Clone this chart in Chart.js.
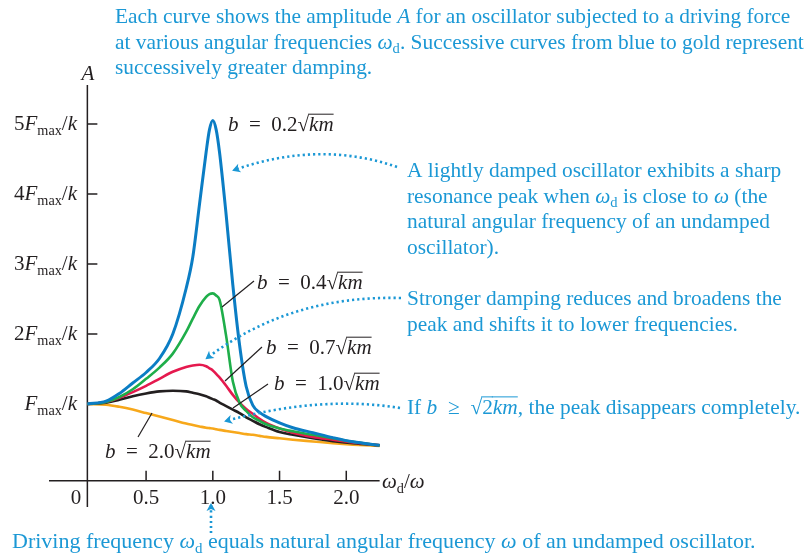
<!DOCTYPE html>
<html>
<head>
<meta charset="utf-8">
<script src="https://cdn.jsdelivr.net/npm/chart.js"></script>
<style>
  body { margin: 0; background: #fff; }
  #wrap { width: 807px; height: 555px; position: relative; }
</style>
</head>
<body>
<div id="wrap"><canvas id="myChart"></canvas></div>
<script>
// driving frequency omega_d / omega
var omega = [0.06, 0.2, 0.3, 0.4, 0.5, 0.6, 0.7, 0.8, 0.85, 0.9, 0.95, 0.975, 1.0, 1.025, 1.05,
  1.1, 1.15, 1.2, 1.25, 1.3, 1.35, 1.4, 1.5, 1.6, 1.75, 1.9, 2.05, 2.25]

// amplitude in units of Fmax/k, one list per damping
var ampB02 = [1.0, 1.04, 1.15, 1.3, 1.45, 1.65, 2.0, 2.65, 3.1, 3.85, 4.6, 4.92, 5.05, 4.92, 4.6,
  3.7, 2.7, 1.85, 1.25, 0.98, 0.88, 0.82, 0.73, 0.66, 0.59, 0.52, 0.46, 0.41]
var ampB04 = [1.0, 1.03, 1.1, 1.21, 1.36, 1.52, 1.72, 2.03, 2.22, 2.4, 2.53, 2.57, 2.58, 2.55, 2.49,
  1.97, 1.32, 1.02, 0.9, 0.81, 0.76, 0.71, 0.65, 0.61, 0.56, 0.51, 0.46, 0.41]
var ampB07 = [1.0, 1.03, 1.09, 1.17, 1.26, 1.36, 1.46, 1.53, 1.55, 1.56, 1.54, 1.51, 1.48, 1.43, 1.38,
  1.26, 1.13, 1.02, 0.93, 0.86, 0.79, 0.73, 0.65, 0.59, 0.53, 0.49, 0.45, 0.41]
var ampB10 = [1.0, 1.02, 1.06, 1.11, 1.15, 1.18, 1.19, 1.18, 1.16, 1.14, 1.11, 1.09, 1.07, 1.05, 1.02,
  0.97, 0.92, 0.87, 0.81, 0.76, 0.71, 0.67, 0.6, 0.56, 0.51, 0.47, 0.44, 0.41]
var ampB20 = [1.0, 0.99, 0.96, 0.92, 0.87, 0.82, 0.77, 0.72, 0.7, 0.68, 0.66, 0.655, 0.65, 0.64, 0.63,
  0.615, 0.6, 0.585, 0.57, 0.56, 0.545, 0.53, 0.51, 0.49, 0.465, 0.44, 0.42, 0.4]

var damping = ['0.2', '0.4', '0.7', '1.0', '2.0']
var xTicks = [0.5, 1.0, 1.5, 2.0]
var xTickLabels = ['0.5', '1.0', '1.5', '2.0']
var yTicks = [1, 2, 3, 4, 5]
var yTickLabels = ['*F*_max_/*k*', '2*F*_max_/*k*', '3*F*_max_/*k*', '4*F*_max_/*k*', '5*F*_max_/*k*']

var SERIF = '"Liberation Serif", "Times New Roman", serif'
var TEXT_BLUE = '#1b98d5'
var INK = '#231f20'
var FS = 21
var CAP = 21.4

// *italic*  _subscript_  ~overline~
function parse(str) {
  var segs = [], cur = '', it = false, sub = false, over = false
  function push() {
    if (cur) segs.push({ t: cur, it: it, sub: sub, over: over })
    cur = ''
  }
  for (var ch of str) {
    if (ch === '*') { push(); it = !it }
    else if (ch === '_') { push(); sub = !sub }
    else if (ch === '~') { push(); over = !over }
    else cur += ch
  }
  push()
  return segs
}

function fontFor(s, size) {
  return (s.it ? 'italic ' : '') + (s.sub ? size * 0.68 : size) + 'px ' + SERIF
}

function drawRich(ctx, x, y, str, size, color, align) {
  var segs = parse(str), total = 0
  segs.forEach(function (s) { ctx.font = fontFor(s, size); total += ctx.measureText(s.t).width })
  if (align === 'right') x -= total
  if (align === 'center') x -= total / 2
  ctx.fillStyle = color
  ctx.strokeStyle = color
  ctx.textAlign = 'left'
  ctx.textBaseline = 'alphabetic'
  segs.forEach(function (s) {
    ctx.font = fontFor(s, size)
    var w = ctx.measureText(s.t).width
    ctx.fillText(s.t, x, s.sub ? y + size * 0.22 : y)
    if (s.over) {
      ctx.lineWidth = 1
      ctx.beginPath()
      ctx.moveTo(x - 1, y - size * 0.8)
      ctx.lineTo(x + w, y - size * 0.8)
      ctx.stroke()
    }
    x += w
  })
}

function dottedArrow(ctx, p0, c, p1) {
  ctx.save()
  ctx.strokeStyle = TEXT_BLUE
  ctx.fillStyle = TEXT_BLUE
  ctx.lineWidth = 2.6
  ctx.setLineDash([2.2, 3])
  ctx.beginPath()
  ctx.moveTo(p0[0], p0[1])
  ctx.quadraticCurveTo(c[0], c[1], p1[0], p1[1])
  ctx.stroke()
  ctx.setLineDash([])
  var ang = Math.atan2(p1[1] - c[1], p1[0] - c[0])
  ctx.translate(p1[0], p1[1])
  ctx.rotate(ang)
  ctx.beginPath()
  ctx.moveTo(2, 0)
  ctx.lineTo(-6, -4.5)
  ctx.lineTo(-4, 0)
  ctx.lineTo(-6, 4.5)
  ctx.closePath()
  ctx.fill()
  ctx.restore()
}

function leader(ctx, a, b) {
  ctx.save()
  ctx.strokeStyle = INK
  ctx.lineWidth = 1.2
  ctx.beginPath()
  ctx.moveTo(a[0], a[1])
  ctx.lineTo(b[0], b[1])
  ctx.stroke()
  ctx.restore()
}

var axesPlugin = {
  id: 'axes',
  beforeDatasetsDraw: function (chart) {
    var ctx = chart.ctx, xs = chart.scales.x, ys = chart.scales.y
    var ax = xs.getPixelForValue(0.06)
    var ay = ys.getPixelForValue(-0.095)
    ctx.save()
    ctx.strokeStyle = INK
    ctx.lineWidth = 1.5
    ctx.beginPath()
    ctx.moveTo(ax, 85); ctx.lineTo(ax, 507)
    ctx.moveTo(49, ay); ctx.lineTo(xs.getPixelForValue(2.25), ay)
    yTicks.forEach(function (v) {
      var py = ys.getPixelForValue(v)
      ctx.moveTo(ax, py); ctx.lineTo(ax + 10, py)
    })
    xTicks.forEach(function (v) {
      var px = xs.getPixelForValue(v)
      ctx.moveTo(px, ay); ctx.lineTo(px, ay - 10)
    })
    ctx.stroke()
    yTicks.forEach(function (v, i) {
      drawRich(ctx, 77, ys.getPixelForValue(v) + 6, yTickLabels[i], FS, INK, 'right')
    })
    xTicks.forEach(function (v, i) {
      drawRich(ctx, xs.getPixelForValue(v), 504, xTickLabels[i], FS, INK, 'center')
    })
    drawRich(ctx, 76, 504, '0', FS, INK, 'center')
    drawRich(ctx, 88, 80, '*A*', FS, INK, 'center')
    drawRich(ctx, 382, 488, '*ω*_d_/*ω*', FS, INK, 'left')
    ctx.restore()
  },
  afterDraw: function (chart) {
    var ctx = chart.ctx
    var sp = '\u2002=\u2002'
    ctx.save()
    // curve labels
    drawRich(ctx, 228, 131, '*b*' + sp + '0.2√~*km*~', FS, INK)
    drawRich(ctx, 257, 289, '*b*' + sp + '0.4√~*km*~', FS, INK)
    drawRich(ctx, 266, 354, '*b*' + sp + '0.7√~*km*~', FS, INK)
    drawRich(ctx, 274, 390, '*b*' + sp + '1.0√~*km*~', FS, INK)
    drawRich(ctx, 105, 458, '*b*' + sp + '2.0√~*km*~', FS, INK)
    leader(ctx, [254, 281], [222, 307])
    leader(ctx, [262, 347], [225, 381])
    leader(ctx, [268, 384], [233, 408])
    leader(ctx, [152, 413], [138, 437])

    // captions
    var lh = 25.5
    var top = [
      'Each curve shows the amplitude *A* for an oscillator subjected to a driving force',
      'at various angular frequencies *ω*_d_. Successive curves from blue to gold represent',
      'successively greater damping.'
    ]
    top.forEach(function (l, i) { drawRich(ctx, 115, 23 + i * lh, l, CAP, TEXT_BLUE) })
    var note1 = [
      'A lightly damped oscillator exhibits a sharp',
      'resonance peak when *ω*_d_ is close to *ω* (the',
      'natural angular frequency of an undamped',
      'oscillator).'
    ]
    note1.forEach(function (l, i) { drawRich(ctx, 407, 177 + i * lh, l, CAP, TEXT_BLUE) })
    var note2 = [
      'Stronger damping reduces and broadens the',
      'peak and shifts it to lower frequencies.'
    ]
    note2.forEach(function (l, i) { drawRich(ctx, 407, 305 + i * lh, l, CAP, TEXT_BLUE) })
    drawRich(ctx, 407, 414, 'If *b*  ≥  √~2*km*~, the peak disappears completely.', CAP, TEXT_BLUE)
    drawRich(ctx, 12, 548, 'Driving frequency *ω*_d_ equals natural angular frequency *ω* of an undamped oscillator.', 22, TEXT_BLUE)

    dottedArrow(ctx, [397, 167], [320, 140], [234, 170])
    dottedArrow(ctx, [401, 298], [290, 295], [207, 358])
    dottedArrow(ctx, [400, 408], [320, 395], [226, 421])
    dottedArrow(ctx, [211, 533], [211, 520], [211, 505])
    ctx.restore()
  }
}

function series(vals) {
  return omega.map(function (w, i) { return { x: w, y: vals[i] } })
}

var colors = ['#0b7dc4', '#1fae4a', '#e5194e', '#231f20', '#f7a81b']
var allAmps = [ampB02, ampB04, ampB07, ampB10, ampB20]

var ctx = document.getElementById('myChart').getContext('2d')
var myChart = new Chart(ctx, {
  type: 'scatter',
  data: {
    datasets: allAmps.map(function (a, i) {
      return {
        label: 'b = ' + damping[i] + '√km',
        data: series(a),
        showLine: true,
        borderColor: colors[i],
        backgroundColor: colors[i],
        borderWidth: i === 0 ? 3 : 2.6,
        pointRadius: 0,
        cubicInterpolationMode: 'monotone',
        fill: false,
      }
    }),
  },
  options: {
    responsive: true,
    maintainAspectRatio: false,
    animation: { duration: 0 },
    layout: { padding: { left: 46, right: 394, top: 89, bottom: 60 } },
    plugins: { legend: { display: false }, tooltip: { enabled: false }, title: { display: false } },
    scales: {
      x: { type: 'linear', min: -0.25, max: 2.5, display: false },
      y: { type: 'linear', min: -0.3, max: 5.5, display: false },
    },
  },
  plugins: [axesPlugin],
})
</script>
</body>
</html>
